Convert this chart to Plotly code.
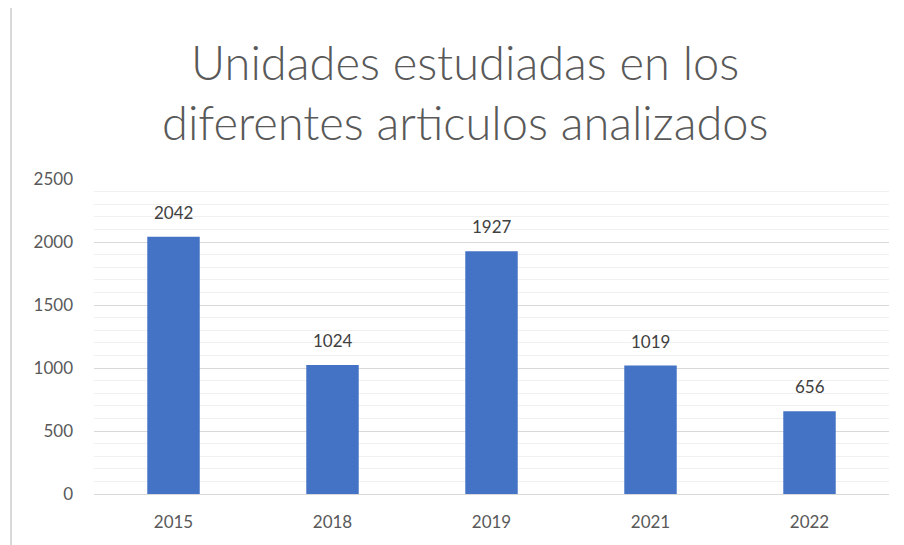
import plotly.graph_objects as go

years = ["2015", "2018", "2019", "2021", "2022"]
units = [2042, 1024, 1927, 1019, 656]
y_ticks = [0, 500, 1000, 1500, 2000, 2500]
title_lines = ["Unidades estudiadas en los", "diferentes articulos analizados"]

fig = go.Figure()
fig.add_trace(go.Bar(
    x=years, y=units, marker=dict(color="#4472C4", line=dict(width=0)),
    width=0.33, cliponaxis=False,
))
for i, v in enumerate(units):
    fig.add_annotation(x=i, y=v, text=str(v), showarrow=False, yanchor="bottom",
                       yshift=12, font=dict(family="Lato", size=17, color="#404040"))

for line, ypos in zip(title_lines, [1.371, 1.181]):
    fig.add_annotation(xref="paper", yref="paper", x=0.4667, y=ypos, text=line,
                       showarrow=False, xanchor="center", yanchor="middle",
                       font=dict(family="Lato", size=47, color="#595959", weight=300))

fig.update_layout(
    width=896, height=537,
    margin=dict(l=86, r=15, t=171, b=51),
    paper_bgcolor="white", plot_bgcolor="white",
    showlegend=False,
    font=dict(family="Lato", size=17, color="#595959"),
    xaxis=dict(type="category", categoryarray=years, categoryorder="array",
               range=[-0.5, len(years) - 0.5], showgrid=False, showline=False, ticks="",
               ticklabelstandoff=16, tickfont=dict(size=17, color="#595959")),
    yaxis=dict(range=[0, 2500], tickvals=y_ticks, showgrid=True, gridcolor="#D9D9D9",
               gridwidth=1, zeroline=True, zerolinecolor="#D9D9D9", zerolinewidth=1,
               ticks="", ticklabelstandoff=20,
               minor=dict(dtick=100, showgrid=True, gridcolor="#F0F0F0", gridwidth=1),
               tickfont=dict(size=17, color="#595959")),
    bargap=0.67,
)
fig.add_shape(type="line", xref="paper", yref="paper", x0=-0.1044, x1=-0.1044, y0=-0.2, y1=1.6,
              line=dict(color="#D9D9D9", width=2))
fig.write_html("out.html")
